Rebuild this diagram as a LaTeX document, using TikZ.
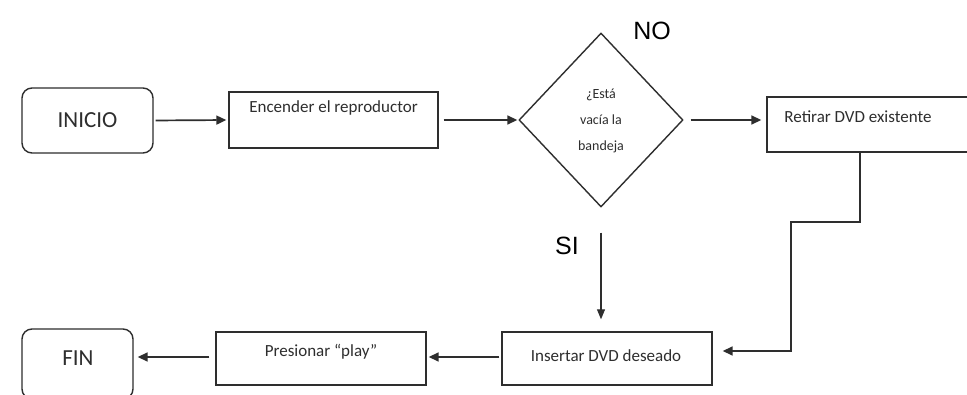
\documentclass[tikz,border=0pt]{standalone}
\usepackage{fontspec}
\setmainfont{Carlito}
\newfontfamily\arialfont{Liberation Sans}
\usetikzlibrary{arrows.meta,shapes.geometric}
\definecolor{ink}{HTML}{2E2E2E}
\begin{document}
\begin{tikzpicture}[x=1pt,y=-1pt,
  box/.style={draw=ink,line width=1.4pt,minimum width=209pt,minimum height=56pt,inner sep=0pt},
  term/.style={draw=ink,line width=1.4pt,rounded corners=10pt,inner sep=0pt},
  txt/.style={text=ink,inner sep=0pt,font=\fontsize{17}{19}\selectfont},
  lbl/.style={text=black,inner sep=0pt,font=\arialfont\fontsize{25}{27}\selectfont},
  flow/.style={draw=ink,line width=1.7pt,-{Triangle[length=10pt,width=9pt]}},
  thin/.style={draw=ink,line width=1.1pt,-{Triangle[length=10pt,width=8pt]}}]
\useasboundingbox (0,0) rectangle (967,395);
\clip (0,0) rectangle (967,395);
\fill[white] (0,0) rectangle (967,395);

% start and end terminals
\node[term,minimum width=131pt,minimum height=65pt,font=\fontsize{23}{26}\selectfont,text=ink] (inicio) at (87.5,120.5) {INICIO};
\node[term,minimum width=111pt,minimum height=70pt] (fin) at (77.5,364) {};
\node[text=ink,inner sep=0pt,font=\fontsize{23}{26}\selectfont] (fintxt) at (78,358) {FIN};

% process steps
\node[box] (enc) at (333.5,120) {};
\node[txt] (enctxt) at (333.5,108) {Encender el reproductor};
\node[box,minimum width=210pt,minimum height=55pt] (ret) at (872,124.5) {};
\node[txt] (rettxt) at (858,117) {Retirar DVD existente};
\node[box,minimum width=210pt,minimum height=53pt] (ins) at (607,358.5) {};
\node[txt] (instxt) at (606,356) {Insertar DVD deseado};
\node[box,minimum width=210pt,minimum height=53pt] (pre) at (321,358.5) {};
\node[txt] (pretxt) at (321,352) {Presionar “play”};

% decision
\node[diamond,draw=ink,line width=1.4pt,minimum width=164pt,minimum height=174pt,inner sep=0pt] (dec) at (601,120) {};
\node[text=ink,inner sep=0pt,align=center,font=\fontsize{14}{26}\selectfont] (dectxt) at (601,121) {¿Está\\vacía la\\bandeja};

% branch labels
\node[lbl] (no) at (652,31) {NO};
\node[lbl] (si) at (567,246) {SI};

% connectors
\draw[flow,shorten <=2pt,shorten >=2pt] (inicio.east) -- (enc.west);
\draw[flow,shorten <=5pt,shorten >=1pt] (enc.east) -- (dec.west);
\draw[flow,shorten <=7pt,shorten >=5pt] (dec.east) -- (ret.west |- dec.east);
\draw[thin,shorten <=25pt,shorten >=12pt] (dec.south) -- (dec.south |- ins.north);
\coordinate (r1) at (860,222);
\coordinate (r2) at (791,222);
\coordinate (r3) at (791,351);
\draw[flow,shorten >=10pt] (ret.south -| r1) -- (r1) -- (r2) -- (r3) -- (ins.east |- r3);
\draw[flow,shorten <=2pt,shorten >=2pt] (ins.west |- 0,357) -- (pre.east |- 0,357);
\draw[flow,shorten <=6pt,shorten >=4pt] (pre.west |- 0,357) -- (fin.east |- 0,357);
\end{tikzpicture}
\end{document}
